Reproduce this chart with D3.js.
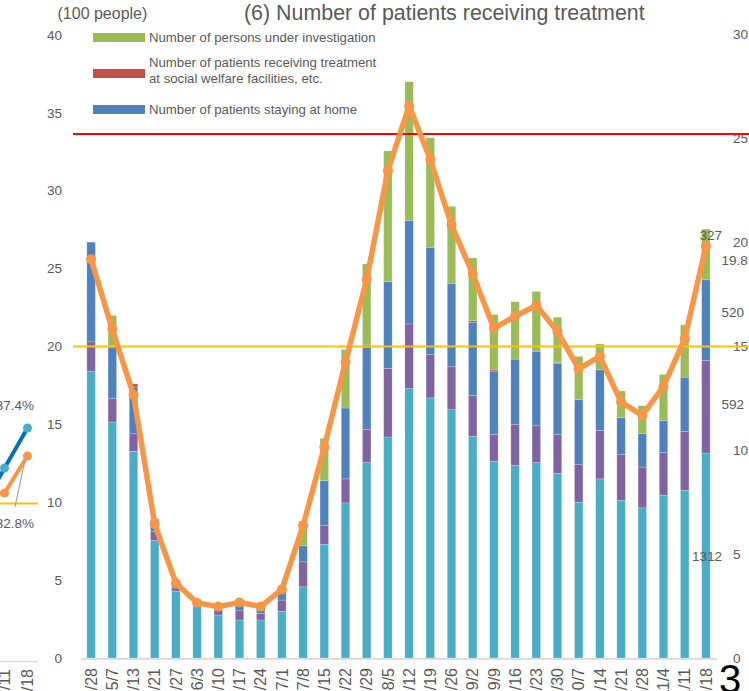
<!DOCTYPE html>
<html>
<head>
<meta charset="utf-8">
<script src="https://cdn.jsdelivr.net/npm/d3@7"></script>
<style>
html,body{margin:0;padding:0;background:#fff;overflow:hidden;}
svg{display:block;font-family:"Liberation Sans",Arial,sans-serif;}
</style>
</head>
<body>
<svg id="chart" width="749" height="691"></svg>
<script>
// ---------- DATA ----------
const categories = ["4/28","5/7","5/13","5/21","5/27","6/3","6/10","6/17","6/24","7/1",
  "7/8","7/15","7/22","7/29","8/5","8/12","8/19","8/26","9/2","9/9",
  "9/16","9/23","9/30","10/7","10/14","10/21","10/28","11/4","11/11","11/18"];
// stacked series (unit: 100 people), bottom to top
const hospitalized = [18.4,15.15,13.27,7.56,4.29,3.4,2.76,2.44,2.44,3.0,
  4.57,7.3,9.96,12.54,14.19,17.3,16.7,15.94,14.23,12.63,
  12.37,12.54,11.86,10.0,11.5,10.13,9.64,10.45,10.77,13.16];
const hotel = [1.9,1.5,1.13,0.58,0.21,0.05,0.32,0.59,0.42,0.72,
  1.6,1.2,1.54,2.12,4.41,4.15,2.77,2.76,2.63,1.73,
  2.61,2.37,2.48,2.41,3.1,2.95,2.62,2.75,3.78,5.94];
const home = [6.4,3.31,3.0,0.76,0.1,0.05,0.07,0.37,0.34,0.53,
  1.03,2.9,4.55,5.3,5.57,6.65,6.9,5.36,4.7,4.06,
  4.21,4.79,4.57,4.17,3.9,2.35,2.14,2.06,3.48,5.18];
const welfare = [0,0.09,0.2,0.05,0,0,0,0,0,0,
  0,0,0,0.14,0,0,0,0,0.09,0.08,
  0,0,0.07,0,0,0,0,0,0,0];
const investigation = [0,1.95,0,0,0,0,0,0,0,0,
  1.58,2.7,3.75,5.2,8.39,8.9,7.03,4.94,4.04,3.55,
  3.69,3.83,2.9,2.78,1.67,1.71,1.8,2.94,3.36,3.26];
const totalLine = [25.6,21.1,16.9,8.6,4.8,3.55,3.3,3.57,3.3,4.4,
  8.5,13.55,19.0,24.3,31.3,35.45,32.0,27.8,24.66,21.17,
  21.94,22.63,20.96,18.57,19.36,16.43,15.58,17.44,20.49,26.43];
const leftTicks = [0,5,10,15,20,25,30,35,40];
const rightTicks = [0,5,10,15,20,25,30];
const redLineValue = 33.65;   // left axis units
const yellowLineValue = 20;   // left axis units
const legendNames = ["Number of persons under investigation",
  "Number of patients receiving treatment\nat social welfare facilities, etc.",
  "Number of patients staying at home"];
const strayLabels = [ {text:"327", v:20.3, anchor:"end"}, {text:"19.8", v:19.1, anchor:"start"},
  {text:"520", v:16.6, anchor:"start"}, {text:"592", v:12.2, anchor:"start"},
  {text:"1312", v:4.9, anchor:"end"} ];
// neighbouring chart fragment (left edge)
const fragCats = ["11/4","11/11","11/18"];
const fragBlue = [24.0, 30.8, 37.4];
const fragOrange = [26.6, 26.7, 32.8];
const fragThreshold = 25;

// ---------- COLORS ----------
const C = {teal:"#4BACC6", purple:"#8064A2", red:"#C0504D", blue:"#4F81BD", green:"#9BBB59",
  orange:"#F79646", text:"#595959", axis:"#D9D9D9"};

const svg = d3.select("#chart");

// ---------- SCALES ----------
const x = d3.scaleBand().domain(categories).range([80.5, 716.5]).paddingInner(0.6).paddingOuter(0.3);
const y = d3.scaleLinear().domain([0,40]).range([658, 35]);
const yR = d3.scaleLinear().domain([0,30]).range([658, 34]);

// ---------- FRAGMENT (left neighbouring chart) ----------
const fx = d3.scalePoint().domain(fragCats).range([-18.5, 27.5]);
const fy = d3.scaleLinear().domain([0,100]).range([655.6, 46.9]);
svg.append("line").attr("x1",0).attr("x2",38).attr("y1",fy(fragThreshold)).attr("y2",fy(fragThreshold))
  .attr("stroke","#FFC000").attr("stroke-width",2);
svg.append("line").attr("x1",0).attr("x2",38).attr("y1",661.5).attr("y2",661.5)
  .attr("stroke",C.axis).attr("stroke-width",1.5);
const fline = d3.line().x((d,i)=>fx(fragCats[i])).y(d=>fy(d));
svg.append("path").attr("d",fline(fragBlue)).attr("fill","none").attr("stroke","#0070C0").attr("stroke-width",4);
svg.append("path").attr("d",fline(fragOrange)).attr("fill","none").attr("stroke",C.orange).attr("stroke-width",4);
svg.selectAll(".fb").data(fragBlue).join("circle").attr("cx",(d,i)=>fx(fragCats[i])).attr("cy",d=>fy(d)).attr("r",4.5).attr("fill",C.teal);
svg.selectAll(".fo").data(fragOrange).join("circle").attr("cx",(d,i)=>fx(fragCats[i])).attr("cy",d=>fy(d)).attr("r",4.5).attr("fill",C.orange);
svg.append("line").attr("x1",fx("11/18")-2.5).attr("y1",fy(fragOrange[2])+4).attr("x2",fx("11/18")-12.5).attr("y2",fy(fragOrange[2])+51)
  .attr("stroke","#A6A6A6").attr("stroke-width",1.2);
svg.append("text").attr("x",34).attr("y",fy(fragBlue[2])-23).attr("dy","0.35em").attr("text-anchor","end")
  .attr("font-size",13.5).attr("fill",C.text).text(fragBlue[2].toFixed(1)+"%");
svg.append("text").attr("x",34).attr("y",fy(fragOrange[2])+67).attr("dy","0.35em").attr("text-anchor","end")
  .attr("font-size",13.5).attr("fill",C.text).text(fragOrange[2].toFixed(1)+"%");
svg.selectAll(".fxl").data(fragCats).join("text")
  .attr("transform",d=>`translate(${fx(d)},669) rotate(-90)`)
  .attr("text-anchor","end").attr("dy","0.35em").attr("font-size",16).attr("fill",C.text).text(d=>d);

// ---------- TITLE ----------
svg.append("text").attr("x",57.5).attr("y",18.5).attr("font-size",16).attr("fill",C.text).text("(100 people)");
svg.append("text").attr("x",244).attr("y",19.5).attr("font-size",21.4).attr("fill",C.text).text("(6) Number of patients receiving treatment");

// ---------- AXES ----------
svg.selectAll(".yl").data(leftTicks).join("text")
  .attr("x",62).attr("y",d=>y(d)).attr("dy","0.35em").attr("text-anchor","end")
  .attr("font-size",13.5).attr("fill",C.text).text(d=>d);
svg.selectAll(".yr").data(rightTicks).join("text")
  .attr("x",733).attr("y",d=>yR(d)).attr("dy","0.35em").attr("text-anchor","start")
  .attr("font-size",13.5).attr("fill",C.text).text(d=>d);
svg.append("line").attr("x1",81).attr("x2",717).attr("y1",658.8).attr("y2",658.8)
  .attr("stroke",C.axis).attr("stroke-width",1.8);
svg.selectAll(".xl").data(categories).join("text")
  .attr("transform",d=>`translate(${x(d)+x.bandwidth()/2},668) rotate(-90)`)
  .attr("text-anchor","end").attr("dy","0.35em").attr("font-size",16).attr("fill",C.text).text(d=>d);

// ---------- BARS ----------
const keys = ["hospitalized","hotel","home","welfare","investigation"];
const colorOf = {hospitalized:C.teal, hotel:C.purple, home:C.blue, welfare:C.red, investigation:C.green};
const rows = categories.map((c,i)=>({cat:c, hospitalized:hospitalized[i], hotel:hotel[i], home:home[i], welfare:welfare[i], investigation:investigation[i]}));
const stacked = d3.stack().keys(keys)(rows);
svg.append("g").selectAll("g").data(stacked).join("g").attr("fill",s=>colorOf[s.key])
  .selectAll("rect").data(s=>s).join("rect")
  .attr("x",d=>x(d.data.cat)).attr("width",x.bandwidth())
  .attr("y",d=>y(d[1])).attr("height",d=>Math.max(0,y(d[0])-y(d[1])))
  .attr("stroke","#ffffff").attr("stroke-opacity",0.35).attr("stroke-width",0.6);

// ---------- REFERENCE LINES ----------
svg.append("line").attr("x1",73).attr("x2",749).attr("y1",y(redLineValue)).attr("y2",y(redLineValue))
  .attr("stroke","#FF0000").attr("stroke-width",2);
svg.append("line").attr("x1",73).attr("x2",749).attr("y1",y(yellowLineValue)).attr("y2",y(yellowLineValue))
  .attr("stroke","#FFC000").attr("stroke-width",2);

// ---------- LINE ----------
const line = d3.line().x((d,i)=>x(categories[i])+x.bandwidth()/2).y(d=>y(d));
svg.append("path").attr("d",line(totalLine)).attr("fill","none").attr("stroke",C.orange)
  .attr("stroke-width",5.5).attr("stroke-linejoin","round");
svg.selectAll(".dot").data(totalLine).join("circle")
  .attr("cx",(d,i)=>x(categories[i])+x.bandwidth()/2).attr("cy",d=>y(d)).attr("r",5).attr("fill",C.orange);

// ---------- LEGEND ----------
const legendColors = [C.green, C.red, C.blue];
const legendY = [37.5, 73.5, 109.5];
legendNames.forEach((name,i)=>{
  svg.append("rect").attr("x",93).attr("y",legendY[i]-4.5).attr("width",52).attr("height",9).attr("fill",legendColors[i]);
  const lines = name.split("\n");
  const t = svg.append("text").attr("font-size",13.2).attr("fill",C.text);
  const y0 = lines.length===1 ? legendY[i]+2 : legendY[i]-8.5;
  lines.forEach((ln,j)=>t.append("tspan").attr("x",149).attr("y",y0+ j*16 + 2).text(ln));
});

// ---------- STRAY DATA LABELS ----------
svg.selectAll(".sl").data(strayLabels).join("text")
  .attr("x",d=>d.anchor==="end"?722:721.5).attr("y",d=>yR(d.v)).attr("dy","0.35em")
  .attr("text-anchor",d=>d.anchor).attr("font-size",13.5).attr("fill",C.text).text(d=>d.text);

// page number
svg.append("text").attr("x",719).attr("y",693).attr("font-size",40).attr("fill","#000").text("3");
</script>
</body>
</html>
